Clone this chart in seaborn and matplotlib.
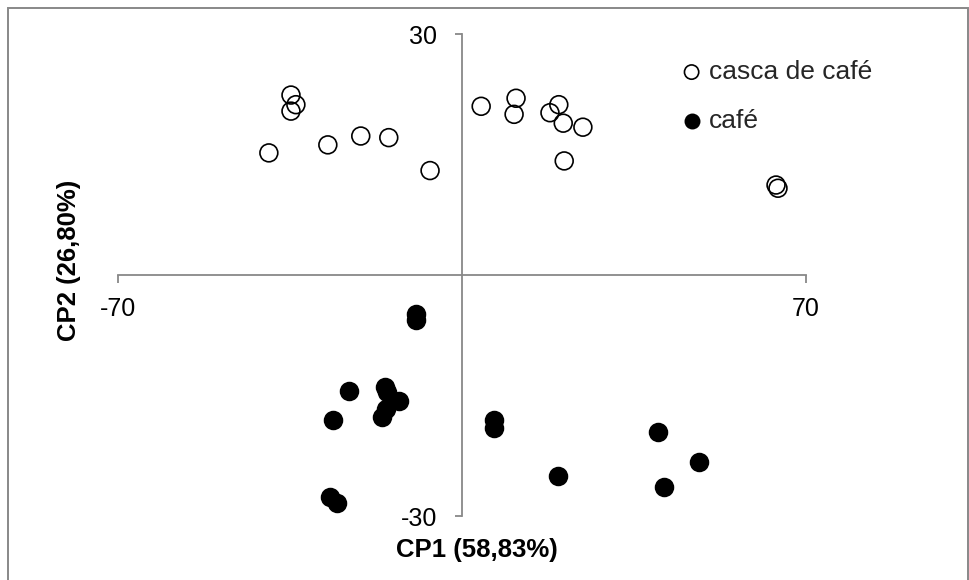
import matplotlib
matplotlib.use("Agg")
import matplotlib.pyplot as plt
import seaborn as sns
import pandas as pd
from matplotlib.patches import Rectangle

# Data (PCA scores)
casca_x = [-34.8, -33.8, -34.8, -39.3, -27.3, -20.6, -14.9, -6.5, 3.9, 11.0,
           10.6, 17.9, 19.7, 20.6, 24.6, 20.8, 63.9, 64.3]
casca_y = [22.4, 21.2, 20.4, 15.2, 16.2, 17.3, 17.1, 13.0, 21.0, 22.0,
           20.0, 20.2, 21.2, 18.9, 18.4, 14.2, 11.2, 10.8]
cafe_x = [-9.4, -9.4, -23.0, -15.7, -15.3, -12.8, -15.5, -16.3, -26.3, 6.5,
          6.5, 39.9, 19.5, 48.2, 41.1, -26.9, -25.4]
cafe_y = [-4.9, -5.6, -14.4, -13.9, -14.6, -15.7, -16.7, -17.7, -18.1, -18.1,
          -19.1, -19.6, -25.0, -23.3, -26.4, -27.6, -28.4]
series_names = ["casca de café", "café"]
x_ticks = [-70, 70]
y_ticks = [-30, 30]
x_title = "CP1 (58,83%)"
y_title = "CP2 (26,80%)"

sns.set_theme(style="white")
plt.rcParams['font.family'] = ['Liberation Sans', 'DejaVu Sans']

df_casca = pd.DataFrame({"CP1": casca_x, "CP2": casca_y})
df_cafe = pd.DataFrame({"CP1": cafe_x, "CP2": cafe_y})

fig = plt.figure(figsize=(9.69, 5.80), dpi=100)
ax = fig.add_axes([118 / 969, 1 - 516 / 580, 688 / 969, 482 / 580])

sns.scatterplot(data=df_casca, x="CP1", y="CP2", ax=ax, s=165, marker="o",
                facecolor="none", edgecolor="black", linewidth=1.2,
                label=series_names[0], clip_on=False, zorder=3)
sns.scatterplot(data=df_cafe, x="CP1", y="CP2", ax=ax, s=165, marker="o",
                color="black", edgecolor="black", linewidth=1.2,
                label=series_names[1], clip_on=False, zorder=3)

ax.set_xlim(-70, 70)
ax.set_ylim(-30, 30)
ax.set_facecolor("white")
for s in ["top", "right"]:
    ax.spines[s].set_visible(False)
ax.spines["left"].set_position(("data", 0))
ax.spines["bottom"].set_position(("data", 0))
for s in ["left", "bottom"]:
    ax.spines[s].set_color("#888888")
    ax.spines[s].set_linewidth(1.3)

ax.set_xticks(x_ticks)
ax.set_yticks(y_ticks)
ax.set_xticklabels([str(v) for v in x_ticks])
ax.set_yticklabels([str(v) for v in y_ticks])
ax.tick_params(axis="x", direction="out", length=5.8, width=1.3, color="#888888",
               pad=10, labelsize=18, labelcolor="black", bottom=True)
ax.tick_params(axis="y", direction="out", length=5, width=1.3, color="#888888",
               pad=13, labelsize=18, labelcolor="black", left=True)

ax.set_xlabel(x_title, fontsize=18.5, fontweight="bold", color="black")
ax.set_ylabel(y_title, fontsize=18.5, fontweight="bold", color="black")
ax.xaxis.set_label_coords((477 - 118) / 688, (516 - 538) / 482)
ax.yaxis.set_label_coords((81 - 118) / 688, (516 - 260) / 482)

leg = ax.legend(loc="upper left", bbox_to_anchor=((685 - 118) / 688, (516 - 60) / 482),
                frameon=False, fontsize=19, markerscale=0.8, handlelength=0.5,
                handletextpad=0.4, labelspacing=0.95, borderpad=0, borderaxespad=0)

fig.patches.append(Rectangle((7.5 / 969, -0.1), (968 - 7.5) / 969, 1.1 - 8 / 580,
                             transform=fig.transFigure, fill=False,
                             edgecolor="#888888", linewidth=1.4))

fig.savefig("out.png", dpi=100, facecolor="white")
